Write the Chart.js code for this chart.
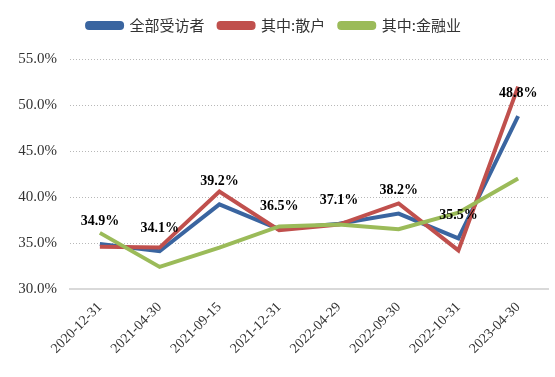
<!DOCTYPE html>
<html>
<head>
<meta charset="utf-8">
<script src="https://cdn.jsdelivr.net/npm/chart.js@4.4.0/dist/chart.umd.min.js"></script>
<style>
  html, body { margin: 0; padding: 0; background: #fff; }
  #wrap { width: 555px; height: 377px; }
</style>
</head>
<body>
<div id="wrap"><canvas id="chart" width="555" height="377"></canvas></div>
<script>
const dates = ['2020-12-31', '2021-04-30', '2021-09-15', '2021-12-31', '2022-04-29', '2022-09-30', '2022-10-31', '2023-04-30'];
const allRespondents = [34.9, 34.1, 39.2, 36.5, 37.1, 38.2, 35.5, 48.8];
const retail = [34.6, 34.5, 40.6, 36.4, 37.0, 39.3, 34.2, 52.0];
const finance = [36.1, 32.4, 34.5, 36.8, 37.0, 36.5, 38.3, 42.0];
const seriesNames = ['全部受访者', '其中:散户', '其中:金融业'];
const yTicks = [30, 35, 40, 45, 50, 55];

const serif = '"Liberation Serif", "Times New Roman", serif';

// value labels above the first series
const valueLabels = {
    id: 'valueLabels',
    afterInit(chart) {
        // leave more room between legend and plot
        const legend = chart.legend;
        const fit = legend.fit.bind(legend);
        legend.fit = function () {
            fit();
            this.height += 16;
        };
    },
    afterDatasetsDraw(chart) {
        const ctx = chart.ctx;
        const meta = chart.getDatasetMeta(0);
        ctx.save();
        ctx.font = 'bold 14px ' + serif;
        ctx.fillStyle = '#000';
        ctx.textAlign = 'center';
        ctx.textBaseline = 'middle';
        meta.data.forEach((pt, i) => {
            ctx.fillText(allRespondents[i].toFixed(1) + '%', pt.x, pt.y - 23);
        });
        ctx.restore();
    }
};

const ctx = document.getElementById('chart').getContext('2d');
new Chart(ctx, {
    type: 'line',
    data: {
        labels: dates,
        datasets: [
            { label: seriesNames[0], data: allRespondents, borderColor: '#3A65A0', backgroundColor: '#3A65A0', order: 2 },
            { label: seriesNames[1], data: retail, borderColor: '#C0504D', backgroundColor: '#C0504D', order: 1 },
            { label: seriesNames[2], data: finance, borderColor: '#9BBB59', backgroundColor: '#9BBB59', order: 0 }
        ]
    },
    options: {
        responsive: false,
        animation: false,
        elements: {
            line: { borderWidth: 4, tension: 0 },
            point: { radius: 0, hoverRadius: 0 }
        },
        layout: { padding: { top: 4, right: 7, left: 0, bottom: 0 } },
        plugins: {
            tooltip: { enabled: false },
            legend: {
                position: 'top',
                labels: {
                    boxWidth: 35,
                    boxHeight: 5,
                    padding: 14,
                    color: '#333',
                    useBorderRadius: true,
                    borderRadius: 2,
                    font: { family: '"Noto Sans CJK SC", ' + serif, size: 15 },
                    sort: (a, b) => a.datasetIndex - b.datasetIndex
                }
            }
        },
        scales: {
            x: {
                offset: true,
                grid: { display: false, drawTicks: false },
                border: { display: true, color: '#d9d9d9', width: 2 },
                ticks: {
                    maxRotation: 45,
                    minRotation: 45,
                    padding: 10,
                    color: '#333',
                    font: { family: serif, size: 14 }
                },
                afterFit: (scale) => { scale.height = 88; }
            },
            y: {
                min: 30,
                max: 55,
                grid: {
                    drawTicks: false,
                    color: (c) => c.tick && c.tick.value === 30 ? 'rgba(0,0,0,0)' : '#b8b8b8',
                    lineWidth: 1
                },
                border: { display: false, dash: [1, 2] },
                afterBuildTicks: (scale) => { scale.ticks = yTicks.map(v => ({ value: v })); },
                ticks: {
                    padding: 13,
                    color: '#333',
                    font: { family: serif, size: 15 },
                    callback: (v) => v.toFixed(1) + '%'
                },
                afterFit: (scale) => { scale.width = 70; }
            }
        }
    },
    plugins: [valueLabels]
});
</script>
</body>
</html>
